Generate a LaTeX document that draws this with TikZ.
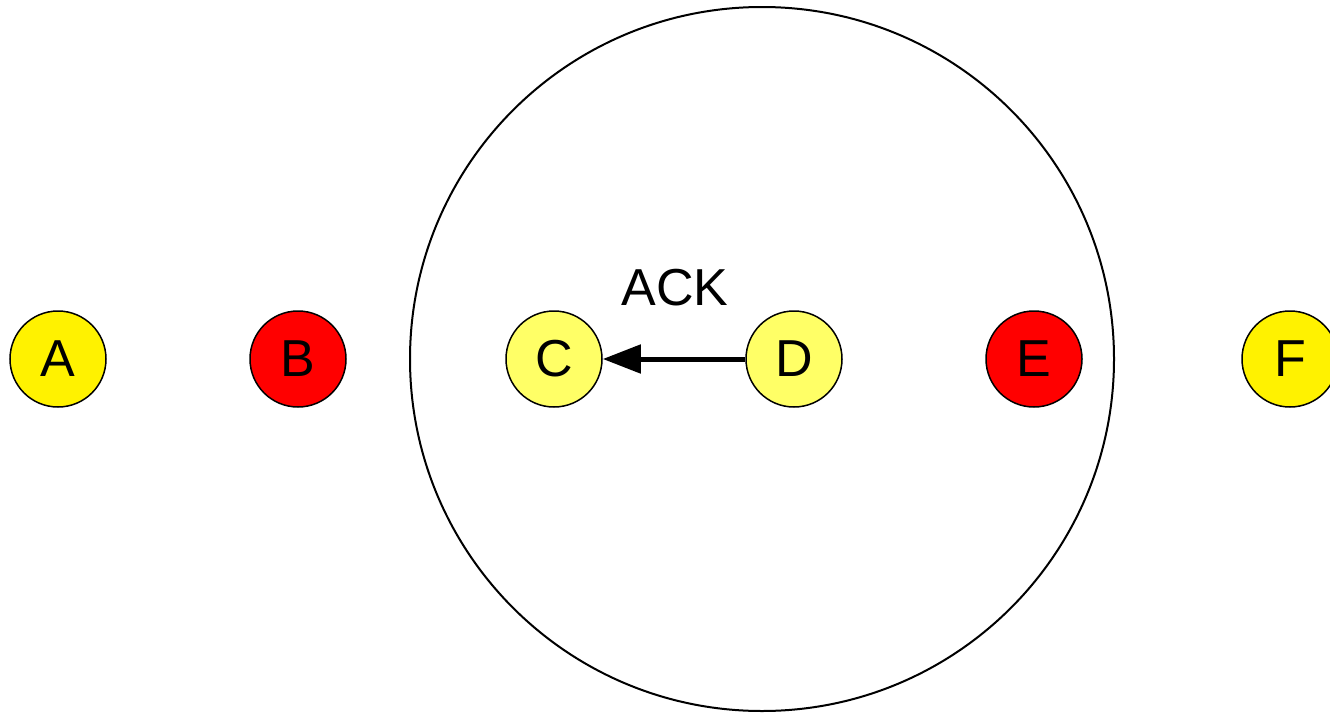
\documentclass[tikz,border=0pt]{standalone}
\usepackage{fontspec}
\setmainfont{Liberation Sans}
\usetikzlibrary{arrows.meta}
\definecolor{paleyellow}{HTML}{FFFF66}
\tikzset{
  station/.style={circle, draw=black, line width=1.5pt, minimum size=96pt, inner sep=0pt,
                  font=\fontsize{52}{52}\selectfont},
  yellowst/.style={station, fill=yellow},
  palest/.style={station, fill=paleyellow},
  redst/.style={station, fill=red},
  coverage/.style={circle, draw=black, line width=2pt, minimum size=704pt, inner sep=0pt},
  msg/.style={line width=5pt, -{Triangle[length=38pt,width=28pt]}},
}
\begin{document}
\begin{tikzpicture}[x=1pt,y=-1pt]
  \useasboundingbox (0,0) rectangle (1330,712);
  \node[coverage] (R) at (762,359) {};
  \node[yellowst] (A) at (58,359) {A};
  \node[redst] (B) at (298,359) {B};
  \node[palest] (C) at (554,359) {C};
  \node[palest] (D) at (794,359) {D};
  \node[redst] (E) at (1034,359) {E};
  \node[yellowst] (F) at (1290,359) {F};
  \draw[msg] (D) -- (C);
  \node[font=\fontsize{52}{52}\selectfont] (ack) at (675,288) {ACK};
\end{tikzpicture}
\end{document}
